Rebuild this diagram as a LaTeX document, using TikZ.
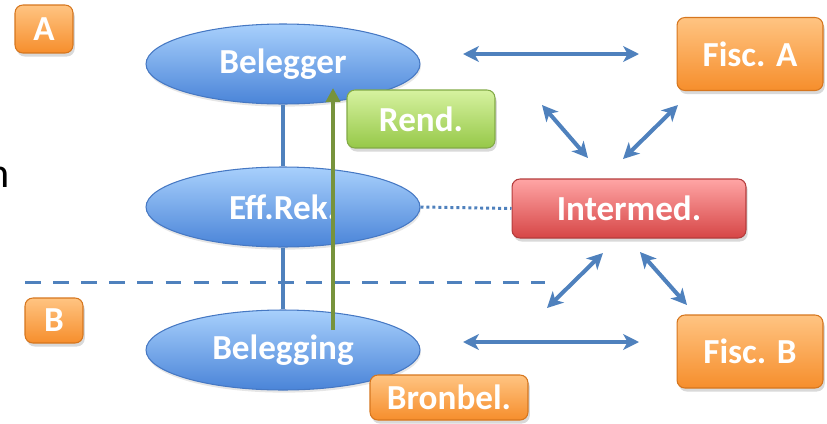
\documentclass[tikz,border=0pt]{standalone}
\usepackage{fontspec}
\setmainfont{Carlito}
\usetikzlibrary{shapes.geometric,shadows,arrows.meta}

\definecolor{linkblue}{RGB}{79,129,189}
\definecolor{rendgreen}{RGB}{119,147,60}
\definecolor{orangetop}{RGB}{255,196,130}
\definecolor{orangebot}{RGB}{246,142,44}
\definecolor{orangeline}{RGB}{214,118,30}
\definecolor{redtop}{RGB}{255,165,165}
\definecolor{redbot}{RGB}{214,70,70}
\definecolor{redline}{RGB}{180,60,60}
\definecolor{greentop}{RGB}{214,242,160}
\definecolor{greenbot}{RGB}{150,200,72}
\definecolor{greenline}{RGB}{130,170,70}
\definecolor{bluetop}{RGB}{168,208,252}
\definecolor{bluemid}{RGB}{130,180,245}
\definecolor{bluebot}{RGB}{74,132,216}
\definecolor{blueline}{RGB}{70,120,195}

\tikzset{
  lbl/.style={font=\bfseries\fontsize{20}{24}\selectfont, text=white, inner sep=0pt},
  boxbase/.style={lbl, rectangle, rounded corners=4.5pt, line width=0.6pt,
    drop shadow={shadow xshift=1pt, shadow yshift=-2pt, opacity=0.3}},
  orangebox/.style={boxbase, draw=orangeline, top color=orangetop, bottom color=orangebot},
  redbox/.style={boxbase, draw=redline, top color=redtop, bottom color=redbot},
  greenbox/.style={boxbase, draw=greenline, top color=greentop, bottom color=greenbot},
  bubble/.style={lbl, ellipse, draw=blueline, line width=0.6pt,
    top color=bluetop, middle color=bluemid, bottom color=bluebot,
    minimum width=5.48cm, minimum height=1.6cm,
    drop shadow={shadow xshift=0.5pt, shadow yshift=-1.5pt, opacity=0.2}},
  dblarrow/.style={draw=linkblue, line width=2.3pt,
    {Stealth[length=9pt, width=9pt, inset=2.5pt]}-{Stealth[length=9pt, width=9pt, inset=2.5pt]}},
  link/.style={draw=linkblue, line width=2.3pt},
  boundary/.style={draw=linkblue, line width=1.7pt, dash pattern=on 9pt off 7pt},
  dotlink/.style={draw=linkblue, line width=1.7pt, dash pattern=on 1.7pt off 1.7pt},
  rendarrow/.style={draw=rendgreen, line width=2.8pt, -{Triangle[length=8pt, width=8pt]}}
}

\begin{document}
\begin{tikzpicture}[x=0.02cm, y=-0.02cm]
\useasboundingbox (0,0) rectangle (827,423);

% cut-off caption letter at the left edge
\node[font=\fontsize{24}{28}\selectfont, inner sep=0pt, anchor=base east] (cut) at (10,187) {n};

% region boundary
\coordinate (dashL) at (25,282);
\coordinate (dashR) at (545,282);
\draw[boundary] (dashL) -- (dashR);

% actor ellipses
\node[bubble] (belegger) at (283,64) {Belegger};
\node[bubble] (effrek) at (283,207) {Eff.Rek.};
\node[bubble] (belegging) at (283,350) {Belegging};

\draw[link] (belegger.south) -- (effrek.north);
\draw[link] (effrek.south) -- (belegging.north);

% region labels
\node[orangebox, minimum width=1.16cm, minimum height=0.96cm] (regA) at (44,29) {A};
\node[orangebox, minimum width=1.16cm, minimum height=0.90cm] (regB) at (54,320.5) {B};

% intermediary and tax authorities
\node[redbox, minimum width=4.68cm, minimum height=1.18cm] (intermed) at (629,208.5) {Intermed.};
\node[orangebox, minimum width=2.92cm, minimum height=1.46cm] (fiscA) at (750,54) {Fisc. A};
\node[orangebox, minimum width=2.92cm, minimum height=1.46cm] (fiscB) at (750,351.5) {Fisc. B};

\draw[dotlink] (effrek.east) -- (intermed.west);

% information flows
\coordinate (topL) at (463,54);
\coordinate (topR) at (639,54);
\coordinate (botL) at (463,342);
\coordinate (botR) at (639,342);
\coordinate (d1a) at (542,105);
\coordinate (d1b) at (588,158);
\coordinate (d2a) at (678,105);
\coordinate (d2b) at (623,159);
\coordinate (d3a) at (603,253);
\coordinate (d3b) at (547,308);
\coordinate (d4a) at (640,252);
\coordinate (d4b) at (687,305);
\draw[dblarrow] (topL) -- (topR);
\draw[dblarrow] (botL) -- (botR);
\draw[dblarrow] (d1a) -- (d1b);
\draw[dblarrow] (d2a) -- (d2b);
\draw[dblarrow] (d3a) -- (d3b);
\draw[dblarrow] (d4a) -- (d4b);

% return flow from investment to investor
\coordinate (rendFrom) at (333,330);
\coordinate (rendTo) at (333,88);
\draw[rendarrow] (rendFrom) -- (rendTo);

\node[greenbox, minimum width=2.96cm, minimum height=1.16cm] (rend) at (421,119) {Rend.};
\node[orangebox, minimum width=3.16cm, minimum height=0.90cm] (bronbel) at (449,397.5) {Bronbel.};
\end{tikzpicture}
\end{document}
